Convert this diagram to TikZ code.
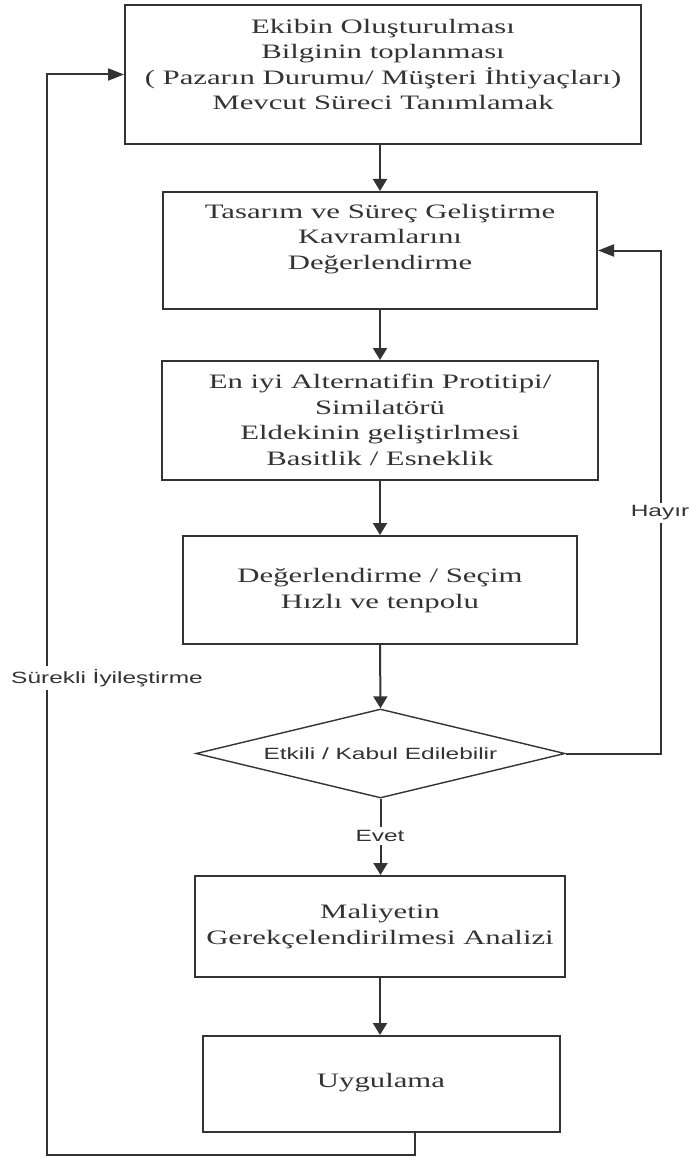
\documentclass[tikz,border=0pt]{standalone}
\usepackage{fontspec}
\setmainfont{Liberation Serif}[FakeStretch=1.5]
\newfontfamily\labelfont{Liberation Sans}[FakeStretch=1.5]
\usetikzlibrary{arrows.meta,shapes.geometric}

\definecolor{ink}{gray}{0.2}
\definecolor{edge}{gray}{0.2}

\tikzset{
  stepbox/.style={draw=edge, line width=2pt, rectangle, inner sep=0pt},
  decision/.style={draw=edge, line width=1.4pt, diamond, inner sep=0pt, aspect=4.15},
  boxtext/.style={align=center, text=ink, inner sep=0pt,
    font=\fontsize{20.5}{25.5}\selectfont},
  flowlabel/.style={text=ink, fill=white, inner sep=3pt,
    font=\labelfont\fontsize{16.3}{19}\selectfont},
  link/.style={draw=edge, line width=2pt},
  down/.style={link, -{Triangle[length=12pt,width=14pt]}},
  side/.style={link, -{Triangle[length=16pt,width=12pt]}}
}

\begin{document}
\begin{tikzpicture}[x=1pt,y=-1pt]
\useasboundingbox (0,0) rectangle (690,1158);

% process boxes
\node[stepbox, minimum width=516, minimum height=139] (b1) at (383,74.5) {};
\node[boxtext] (t1) at (383,64.5) {Ekibin Oluşturulması\\Bilginin toplanması\\( Pazarın Durumu/ Müşteri İhtiyaçları)\\Mevcut Süreci Tanımlamak};

\node[stepbox, minimum width=434, minimum height=117] (b2) at (380,250.5) {};
\node[boxtext] (t2) at (380,239) {Tasarım ve Süreç Geliştirme\\Kavramlarını\\ Değerlendirme};

\node[stepbox, minimum width=436, minimum height=119] (b3) at (380,420.5) {};
\node[boxtext] (t3) at (380,420) {En iyi Alternatifin Protitipi/\\Similatörü\\Eldekinin geliştirlmesi\\Basitlik / Esneklik};

\node[stepbox, minimum width=394, minimum height=108] (b4) at (380,590) {};
\node[boxtext] (t4) at (380,590.5) {Değerlendirme / Seçim\\Hızlı ve tenpolu};

\node[decision, minimum width=369, minimum height=89] (d1) at (380.5,753.5) {};
\node[flowlabel, fill=none, inner sep=0pt] (td) at (380.5,753.5) {Etkili / Kabul Edilebilir};

\node[stepbox, minimum width=370, minimum height=101] (b5) at (380,926.5) {};
\node[boxtext] (t5) at (380,926.5) {Maliyetin\\Gerekçelendirilmesi Analizi};

\node[stepbox, minimum width=357, minimum height=96] (b6) at (381,1084) {};
\node[boxtext] (t6) at (381,1083) {Uygulama};

% main flow
\draw[down] (b1.south -| b2.north) -- (b2.north);
\draw[down] (b2.south) -- (b3.north);
\draw[down] (b3.south) -- (b4.north);
\draw[down] (b4.south) -- (d1.north);
\draw[down] (d1.south) -- (b5.north -| d1.south);
\draw[down] (b5.south) -- (b5.south |- b6.north);

% "no" branch back to the concept evaluation
\coordinate (rc) at (661,753.5);
\draw[side] (d1.east) -- (rc) |- (b2.east);

% continuous improvement loop
\coordinate (lb) at (415,1155);
\coordinate (ll) at (47,1155);
\draw[side] (b6.south -| lb) -- (lb) -- (ll) |- (b1.west);

% branch labels
\node[flowlabel] (evet) at (380,836) {Evet};
\node[flowlabel] (hayir) at (660,513) {Hayır};
\node[flowlabel] (surekli) at (107,678) {Sürekli İyileştirme};
\end{tikzpicture}
\end{document}
